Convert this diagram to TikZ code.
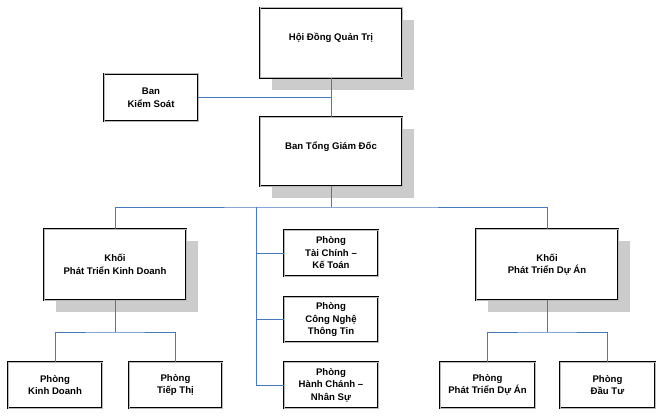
\documentclass[tikz,border=0pt]{standalone}
\usepackage{fontspec}
\setmainfont{Liberation Sans}
\usepackage{xcolor}
\usepackage{tikz}
\usetikzlibrary{shadows}

\definecolor{xanhnoi}{RGB}{70,120,190}

\tikzset{
  khung/.style={draw=black, double=gray!55, double distance=1pt, line width=0.6pt,
    fill=white, align=center, inner sep=0pt,
    font=\bfseries\fontsize{9.6}{12.5}\selectfont},
  bong/.style={drop shadow={shadow xshift=12pt, shadow yshift=-12pt,
    fill=black!20, opacity=1}},
  noi/.style={draw=xanhnoi, line width=0.9pt}
}

\begin{document}
\begin{tikzpicture}[x=1pt, y=-1pt]

  \useasboundingbox (0,0) rectangle (663,417);

  % 1. Cấp lãnh đạo
  \node[khung, bong, minimum width=142, minimum height=70] (hdqt) at (331,43) {Hội Đồng Quản Trị\\~};
  \node[khung, minimum width=94, minimum height=47] (bks) at (151,97.5) {Ban\\Kiểm Soát};
  \node[khung, bong, minimum width=142, minimum height=69] (btgd) at (331,151.5) {Ban Tổng Giám Đốc\\~};

  % 2. Hai khối
  \node[khung, bong, minimum width=142, minimum height=71] (khoikd) at (115,264.5) {Khối\\Phát Triển Kinh Doanh};
  \node[khung, bong, minimum width=142, minimum height=71] (khoida) at (547,264.5) {Khối\\Phát Triển Dự Án};

  % 3. Các phòng trực thuộc Ban Tổng Giám Đốc
  \node[khung, minimum width=94, minimum height=46] (tckt) at (331,253) {Phòng\\Tài Chính –\\Kế Toán};
  \node[khung, minimum width=94, minimum height=45] (cntt) at (331,319.5) {Phòng\\Công Nghệ\\Thông Tin};
  \node[khung, minimum width=94, minimum height=46] (hcns) at (331,385) {Phòng\\Hành Chánh –\\Nhân Sự};

  % 4. Các phòng của hai khối
  \node[khung, minimum width=94, minimum height=46] (pkd) at (55,385) {Phòng\\Kinh Doanh};
  \node[khung, minimum width=93, minimum height=46] (ptt) at (175.5,385) {Phòng\\Tiếp Thị};
  \node[khung, minimum width=95, minimum height=46] (pptda) at (487.5,385) {Phòng\\Phát Triển Dự Án};
  \node[khung, minimum width=95, minimum height=46] (pdt) at (607.5,385) {Phòng\\Đầu Tư};

  % 5. Đường nối
  \coordinate (re) at (331,207);
  \coordinate (truc) at (256,207);
  \coordinate (nhanhkd) at (115,332);
  \coordinate (nhanhda) at (547,332);

  \draw[noi] (hdqt.south) -- (btgd.north);
  \draw[noi] (bks.east) -- (bks.east -| hdqt.south);
  \draw[noi] (btgd.south) -- (re);
  \draw[noi] (khoikd.north) |- (re) -| (khoida.north);
  \draw[noi] (truc) |- (tckt.west);
  \draw[noi] (truc) |- (cntt.west);
  \draw[noi] (truc) |- (hcns.west);

  \draw[noi] (khoikd.south) -- (nhanhkd);
  \draw[noi] (pkd.north) |- (nhanhkd) -| (ptt.north);
  \draw[noi] (khoida.south) -- (nhanhda);
  \draw[noi] (pptda.north) |- (nhanhda) -| (pdt.north);

\end{tikzpicture}
\end{document}
